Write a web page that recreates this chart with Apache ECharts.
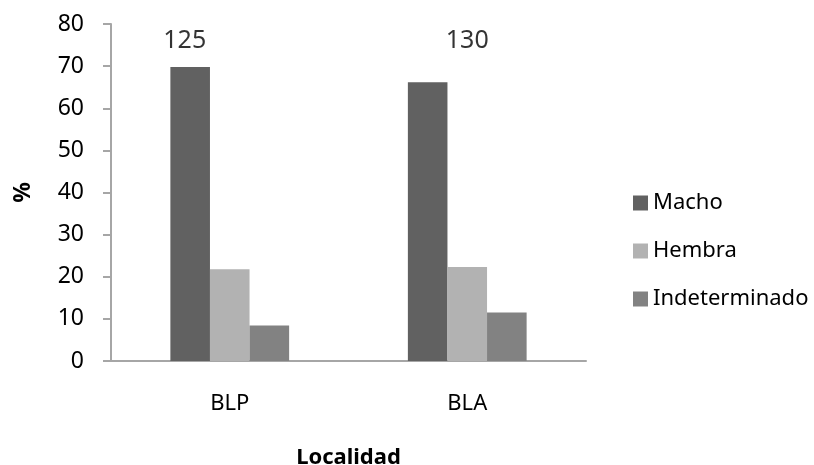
<!DOCTYPE html>
<html>
<head>
<meta charset="utf-8">
<title>Proporción de sexos por localidad</title>
<script src="https://cdn.jsdelivr.net/npm/echarts@6/dist/echarts.min.js"></script>
<style>
  html, body { margin: 0; padding: 0; background: #ffffff; }
  #chart { width: 814px; height: 465px; }
</style>
</head>
<body>
<div id="chart"></div>
<script>
// Localities and percentage of individuals per sex
const localidades = ['BLP', 'BLA'];
const macho = [69.8, 66.2];
const hembra = [21.8, 22.3];
const indeterminado = [8.4, 11.5];
// Sample size shown above each locality
const tamanoMuestra = [125, 130];
const yTicks = { min: 0, max: 80, interval: 10 };

const FONT = 'Noto Sans';
const FS = 23;
const AXIS_GRAY = '#a6a6a6';

const chart = echarts.init(document.getElementById('chart'), null, { renderer: 'canvas' });

const barSeries = (name, data, color) => ({
  name: name,
  type: 'bar',
  data: data,
  barGap: '0%',
  barCategoryGap: '50%',
  itemStyle: { color: color },
  emphasis: { disabled: true },
  silent: true
});

chart.setOption({
  animation: false,
  backgroundColor: '#ffffff',
  textStyle: { fontFamily: FONT },
  grid: { left: 111, right: 228, top: 24, bottom: 104, outerBoundsMode: 'none', containLabel: false },
  legend: {
    data: ['Macho', 'Hembra', 'Indeterminado'],
    orient: 'vertical',
    left: 628,
    top: 187,
    itemWidth: 15,
    itemHeight: 15,
    itemGap: 26,
    icon: 'rect',
    selectedMode: false,
    textStyle: { fontFamily: FONT, fontSize: 22, lineHeight: 22, color: '#000000' }
  },
  xAxis: {
    type: 'category',
    data: localidades,
    name: 'Localidad',
    nameLocation: 'middle',
    nameGap: 86,
    nameTextStyle: { fontFamily: FONT, fontSize: FS - 1, fontWeight: 'bold', color: '#000000' },
    axisLine: { show: true, lineStyle: { color: AXIS_GRAY, width: 2 } },
    axisTick: { show: false },
    axisLabel: { margin: 32, fontFamily: FONT, fontSize: FS - 1, color: '#000000' },
    splitLine: { show: false }
  },
  yAxis: {
    type: 'value',
    min: yTicks.min,
    max: yTicks.max,
    interval: yTicks.interval,
    name: '%',
    nameLocation: 'middle',
    nameRotate: 90,
    nameGap: 76,
    nameTextStyle: { fontFamily: FONT, fontSize: FS, fontWeight: 'bold', color: '#000000' },
    axisLine: { show: true, lineStyle: { color: AXIS_GRAY, width: 2 } },
    axisTick: { show: true, length: 8, lineStyle: { color: AXIS_GRAY, width: 2 } },
    axisLabel: { margin: 27, fontFamily: FONT, fontSize: FS, color: '#000000' },
    splitLine: { show: false }
  },
  series: [
    barSeries('Macho', macho, '#616161'),
    barSeries('Hembra', hembra, '#b2b2b2'),
    barSeries('Indeterminado', indeterminado, '#828282'),
    {
      // sample size annotations, drawn as text only
      name: 'n',
      type: 'scatter',
      symbolSize: 0,
      silent: true,
      data: tamanoMuestra.map((n, i) => ({
        value: [localidades[i], 76],
        label: { offset: i === 0 ? [-45, 0] : [0, 0] }
      })),
      label: {
        show: true,
        position: 'inside',
        fontFamily: FONT,
        fontSize: 25,
        color: '#000000',
        formatter: (p) => String(tamanoMuestra[p.dataIndex])
      }
    }
  ]
});
</script>
</body>
</html>
